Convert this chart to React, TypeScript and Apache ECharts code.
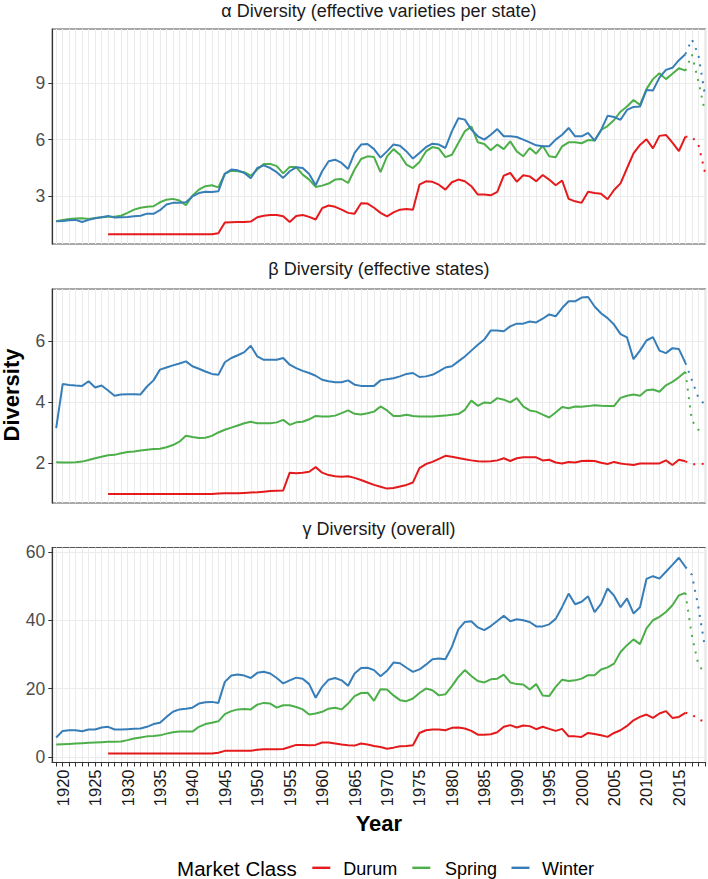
import React, { useEffect, useRef } from 'react';
import * as echarts from 'echarts';

const FONT = '"Liberation Sans", Arial, Helvetica, sans-serif';

// ---- axes ----
const START_YEAR = 1919;
const X_MIN = 1918.4;
const X_MAX = 2019.1;
const X_TICK_YEARS: number[] = [];
for (let y = 1919; y <= 2019; y++) X_TICK_YEARS.push(y);
const X_LABEL_YEARS = [1920, 1925, 1930, 1935, 1940, 1945, 1950, 1955, 1960, 1965, 1970, 1975, 1980, 1985, 1990, 1995, 2000, 2005, 2010, 2015];
const DOTTED_YEARS = [2016, 2017, 2018, 2019];

const ALPHA_TICKS = [3, 6, 9];
const BETA_TICKS = [2, 4, 6];
const GAMMA_TICKS = [0, 20, 40, 60];

const CLASSES = ['Durum', 'Spring', 'Winter'];
const COLORS = ['#E41A1C', '#4DAF4A', '#377EB8'];

const N = null;
const DURUM_PRE = [N, N, N, N, N, N, N, N]; // 1919-1926
const ONES_1927_1943 = [1, 1, 1, 1, 1, 1, 1, 1, 1, 1, 1, 1, 1, 1, 1, 1, 1];

// ---- α diversity (1919-2016) ----
const ALPHA_WINTER = [
  1.69, 1.70, 1.74, 1.76, 1.65, 1.76, 1.85, 1.90, 1.97, 1.88,
  1.90, 1.91, 1.95, 1.98, 2.09, 2.08, 2.27, 2.57, 2.66, 2.67,
  2.69, 3.00, 3.18, 3.25, 3.24, 3.27, 4.20, 4.42, 4.38, 4.24,
  3.96, 4.50, 4.64, 4.50, 4.28, 3.98, 4.33, 4.54, 4.50, 4.19,
  3.59, 4.33, 4.86, 4.94, 4.77, 4.45, 5.30, 5.74, 5.77, 5.50,
  5.05, 5.38, 5.75, 5.68, 5.38, 5.00, 5.30, 5.60, 5.79, 5.74,
  5.56, 6.44, 7.13, 7.06, 6.53, 6.18, 6.00, 6.26, 6.56, 6.18,
  6.18, 6.14, 6.00, 5.86, 5.70, 5.65, 5.65, 6.00, 6.26, 6.62,
  6.18, 6.18, 6.36, 5.95, 6.50, 7.26, 7.20, 7.05, 7.57, 7.73,
  7.75, 8.63, 8.60, 9.28, 9.69, 9.80, 10.20, 10.52,
];
const ALPHA_SPRING = [
  1.69, 1.76, 1.81, 1.83, 1.85, 1.81, 1.86, 1.90, 1.92, 1.92,
  1.98, 2.13, 2.30, 2.40, 2.45, 2.48, 2.69, 2.83, 2.87, 2.78,
  2.53, 3.04, 3.36, 3.54, 3.59, 3.48, 4.20, 4.36, 4.33, 4.28,
  4.10, 4.42, 4.72, 4.72, 4.60, 4.22, 4.56, 4.55, 4.15, 3.89,
  3.50, 3.57, 3.68, 3.89, 3.92, 3.71, 4.42, 4.98, 5.12, 5.08,
  4.28, 5.12, 5.50, 5.20, 4.68, 4.50, 4.82, 5.38, 5.61, 5.53,
  5.08, 5.20, 5.82, 6.44, 6.70, 5.86, 5.77, 5.44, 5.74, 5.50,
  5.91, 5.38, 5.12, 5.56, 5.26, 5.68, 5.12, 5.07, 5.65, 5.86,
  5.86, 5.81, 5.98, 5.95, 6.51, 6.72, 7.04, 7.48, 7.75, 8.10,
  7.84, 8.67, 9.20, 9.51, 9.20, 9.48, 9.78, 9.65,
];
const ALPHA_DURUM = [
  ...DURUM_PRE, ...ONES_1927_1943,
  1.05, 1.62, 1.64, 1.65, 1.65, 1.67, 1.90, 1.98, 2.02, 2.02,
  1.95, 1.65, 1.97, 2.02, 1.92, 1.78, 2.38, 2.52, 2.45, 2.30,
  2.13, 2.09, 2.64, 2.62, 2.40, 2.13, 1.95, 2.16, 2.30, 2.34,
  2.30, 3.62, 3.80, 3.77, 3.62, 3.36, 3.75, 3.89, 3.80, 3.54,
  3.10, 3.10, 3.06, 3.24, 4.10, 4.24, 3.78, 4.12, 4.06, 3.80,
  4.13, 3.89, 3.59, 3.84, 2.87, 2.74, 2.66, 3.25, 3.18, 3.14,
  2.85, 3.34, 3.69, 4.49, 5.28, 5.72, 6.02, 5.54, 6.20, 6.25,
  5.84, 5.40, 6.16,
];
// dotted tail 2016-2019
const ALPHA_WINTER_TAIL = [10.52, 11.3, 10.5, 8.4];
const ALPHA_SPRING_TAIL = [9.65, 10.5, 9.1, 7.5];
const ALPHA_DURUM_TAIL = [6.16, 6.15, 5.75, 4.3];

// ---- β diversity (1919-2016) ----
const BETA_WINTER = [
  3.15, 4.59, 4.56, 4.54, 4.53, 4.68, 4.48, 4.54, 4.38, 4.21,
  4.25, 4.26, 4.26, 4.25, 4.51, 4.71, 5.06, 5.13, 5.20, 5.26,
  5.33, 5.17, 5.09, 5.00, 4.92, 4.89, 5.30, 5.44, 5.53, 5.63,
  5.84, 5.49, 5.38, 5.38, 5.38, 5.44, 5.22, 5.11, 5.02, 4.95,
  4.86, 4.73, 4.68, 4.65, 4.65, 4.71, 4.57, 4.53, 4.53, 4.53,
  4.71, 4.75, 4.78, 4.84, 4.92, 4.95, 4.82, 4.84, 4.89, 5.00,
  5.13, 5.17, 5.33, 5.49, 5.68, 5.87, 6.04, 6.34, 6.34, 6.31,
  6.47, 6.56, 6.56, 6.63, 6.60, 6.72, 6.86, 6.80, 7.07, 7.29,
  7.29, 7.41, 7.43, 7.12, 6.90, 6.74, 6.53, 6.22, 6.11, 5.40,
  5.68, 6.01, 6.12, 5.68, 5.60, 5.76, 5.73, 5.28,
];
const BETA_SPRING = [
  2.04, 2.03, 2.03, 2.04, 2.06, 2.11, 2.17, 2.22, 2.27, 2.28,
  2.33, 2.37, 2.39, 2.42, 2.45, 2.47, 2.48, 2.53, 2.60, 2.71,
  2.90, 2.86, 2.83, 2.84, 2.90, 3.01, 3.10, 3.17, 3.24, 3.31,
  3.36, 3.31, 3.31, 3.31, 3.34, 3.42, 3.26, 3.34, 3.36, 3.44,
  3.55, 3.53, 3.53, 3.56, 3.64, 3.73, 3.62, 3.60, 3.64, 3.69,
  3.86, 3.73, 3.55, 3.55, 3.59, 3.55, 3.53, 3.53, 3.53, 3.55,
  3.56, 3.59, 3.61, 3.75, 4.05, 3.88, 3.99, 3.97, 4.13, 4.08,
  3.99, 4.13, 3.86, 3.73, 3.69, 3.59, 3.50, 3.66, 3.84, 3.80,
  3.86, 3.85, 3.87, 3.90, 3.88, 3.87, 3.87, 4.14, 4.21, 4.25,
  4.21, 4.39, 4.41, 4.34, 4.55, 4.66, 4.81, 4.99,
];
const BETA_DURUM = [
  ...DURUM_PRE, ...ONES_1927_1943,
  1.02, 1.03, 1.03, 1.03, 1.04, 1.05, 1.06, 1.08, 1.10, 1.11,
  1.12, 1.70, 1.68, 1.70, 1.73, 1.88, 1.70, 1.62, 1.58, 1.57,
  1.58, 1.53, 1.46, 1.38, 1.30, 1.24, 1.18, 1.20, 1.25, 1.30,
  1.38, 1.85, 1.98, 2.05, 2.15, 2.25, 2.22, 2.18, 2.14, 2.10,
  2.07, 2.06, 2.07, 2.10, 2.17, 2.08, 2.17, 2.20, 2.20, 2.20,
  2.10, 2.12, 2.03, 2.00, 2.05, 2.03, 2.08, 2.09, 2.08, 2.02,
  1.98, 2.05, 2.00, 1.97, 1.95, 2.00, 2.00, 2.00, 2.00, 2.10,
  1.95, 2.12, 2.07,
];
const BETA_WINTER_TAIL = [5.28, 4.72, 4.15, 3.92];
const BETA_SPRING_TAIL = [4.99, 3.4, 3.1, 3.0];
const BETA_DURUM_TAIL = [2.07, 1.97, 1.98, 1.99];

// ---- γ diversity (1919-2016) ----
const GAMMA_WINTER = [
  5.66, 7.60, 7.80, 7.80, 7.50, 8.00, 8.00, 8.60, 8.80, 8.00,
  8.00, 8.10, 8.20, 8.30, 8.80, 9.60, 10.00, 11.70, 13.20, 13.90,
  14.10, 14.40, 15.60, 16.00, 16.10, 15.80, 21.95, 23.80, 24.10, 23.80,
  23.10, 24.60, 24.90, 24.40, 23.10, 21.50, 22.40, 23.20, 22.90, 21.30,
  17.30, 20.50, 22.60, 23.10, 22.40, 20.80, 24.40, 26.00, 26.10, 25.40,
  23.60, 25.20, 27.60, 27.40, 26.10, 24.90, 25.60, 27.00, 28.60, 28.80,
  28.60, 32.20, 37.30, 39.50, 39.70, 37.90, 37.10, 38.30, 39.80, 41.30,
  39.70, 40.30, 40.00, 39.50, 38.20, 38.20, 38.80, 40.40, 43.90, 47.80,
  44.70, 45.40, 47.00, 42.40, 44.80, 49.30, 47.20, 43.80, 46.40, 42.00,
  43.80, 52.10, 52.90, 52.20, 54.20, 56.20, 58.30, 55.60,
];
const GAMMA_SPRING = [
  3.60, 3.70, 3.80, 3.90, 4.00, 4.10, 4.20, 4.30, 4.40, 4.40,
  4.50, 4.90, 5.40, 5.70, 6.00, 6.10, 6.30, 6.80, 7.20, 7.40,
  7.40, 7.40, 8.80, 9.60, 10.00, 10.40, 12.50, 13.40, 13.90, 14.00,
  13.90, 15.30, 15.80, 15.60, 14.40, 15.10, 15.10, 14.60, 13.90, 12.40,
  12.70, 13.20, 14.10, 14.40, 13.90, 15.60, 17.80, 18.70, 18.80, 16.40,
  19.80, 19.70, 18.00, 16.60, 16.30, 17.10, 18.70, 20.00, 19.50, 18.00,
  18.30, 20.70, 23.40, 25.40, 23.70, 22.20, 21.80, 22.70, 22.90, 24.10,
  21.80, 21.30, 21.20, 19.70, 21.30, 18.00, 17.80, 20.50, 22.60, 22.20,
  22.40, 22.90, 23.90, 23.90, 25.60, 26.20, 27.30, 30.70, 32.70, 34.40,
  33.00, 37.60, 40.00, 41.00, 42.40, 44.40, 47.30, 48.00,
];
const GAMMA_DURUM = [
  ...DURUM_PRE, ...ONES_1927_1943,
  1.20, 1.76, 1.76, 1.76, 1.76, 1.80, 2.05, 2.20, 2.20, 2.20,
  2.30, 2.90, 3.50, 3.50, 3.40, 3.50, 4.20, 4.20, 3.90, 3.60,
  3.40, 3.30, 3.90, 3.60, 3.20, 2.90, 2.40, 2.70, 3.10, 3.20,
  3.40, 7.00, 7.80, 8.00, 8.00, 7.80, 8.50, 8.60, 8.30, 7.60,
  6.50, 6.50, 6.60, 7.20, 8.80, 9.30, 8.60, 9.20, 9.00, 8.10,
  8.80, 8.20, 7.60, 8.20, 6.00, 6.00, 5.85, 7.00, 6.70, 6.35,
  5.85, 7.00, 7.80, 9.05, 10.70, 11.70, 12.40, 11.40, 12.70, 13.40,
  11.40, 11.70, 12.90,
];
const GAMMA_WINTER_TAIL = [55.6, 53.3, 43.9, 32.2];
const GAMMA_SPRING_TAIL = [48.0, 35.5, 27.0, 24.5];
const GAMMA_DURUM_TAIL = [12.9, 12.4, 11.0, 10.3];

const PANEL_TITLES = [
  'α Diversity (effective varieties per state)',
  'β Diversity (effective states)',
  'γ Diversity (overall)',
];

// layout
const GRID_LEFT = 52.3;
const GRID_RIGHT = 2.5;
const PANELS = [
  { top: 29, height: 215, min: 0.485, max: 11.85, step: 3, ticks: ALPHA_TICKS, titleY: 11,
    solid: [ALPHA_DURUM, ALPHA_SPRING, ALPHA_WINTER], tail: [ALPHA_DURUM_TAIL, ALPHA_SPRING_TAIL, ALPHA_WINTER_TAIL] },
  { top: 289, height: 214, min: 0.71, max: 7.69, step: 2, ticks: BETA_TICKS, titleY: 269,
    solid: [BETA_DURUM, BETA_SPRING, BETA_WINTER], tail: [BETA_DURUM_TAIL, BETA_SPRING_TAIL, BETA_WINTER_TAIL] },
  { top: 547.5, height: 215, min: -1.65, max: 61.3, step: 20, ticks: GAMMA_TICKS, titleY: 528.5,
    solid: [GAMMA_DURUM, GAMMA_SPRING, GAMMA_WINTER], tail: [GAMMA_DURUM_TAIL, GAMMA_SPRING_TAIL, GAMMA_WINTER_TAIL] },
];

const toPairs = (arr: (number | null)[], start: number) =>
  arr.map((v, i) => [start + i, v]).filter((p) => p[1] != null);

function buildOption() {
  const grid = PANELS.map((p) => ({
    left: GRID_LEFT, right: GRID_RIGHT, top: p.top, height: p.height,
    show: true, borderColor: '#555', borderWidth: 1.2, backgroundColor: '#fff',
  }));

  const xAxis = PANELS.map((p, i) => ({
    type: 'value', gridIndex: i, min: X_MIN, max: X_MAX,
    minInterval: 1, maxInterval: 1, splitNumber: 100,
    axisLine: { show: i === 2, onZero: false, lineStyle: { color: '#333', width: 1.2 } },
    axisTick: { show: i === 2, customValues: X_TICK_YEARS, length: 4, lineStyle: { color: '#333', width: 1 } },
    axisLabel: {
      show: i === 2, customValues: X_LABEL_YEARS, rotate: 90, margin: 7,
      fontSize: 16.5, color: '#1a1a1a', fontFamily: FONT,
      formatter: (v: number) => (X_LABEL_YEARS.includes(v) ? String(v) : ''),
    },
    splitLine: { show: true, lineStyle: { color: '#EBEBEB', width: 1 } },
  }));

  const yAxis = PANELS.map((p, i) => ({
    type: 'value', gridIndex: i, min: p.min, max: p.max,
    minInterval: p.step, maxInterval: p.step,
    axisLine: { show: true, onZero: false, lineStyle: { color: '#333', width: 1.2 } },
    axisTick: { show: true, customValues: p.ticks, length: 4, lineStyle: { color: '#333', width: 1 } },
    axisLabel: {
      customValues: p.ticks, margin: 7, fontSize: 17.5, color: '#4D4D4D', fontFamily: FONT,
      formatter: (v: number) => (p.ticks.includes(v) ? String(v) : ''),
    },
    splitLine: { show: true, lineStyle: { color: '#EBEBEB', width: 1 } },
  }));

  const series: any[] = [];
  PANELS.forEach((p, i) => {
    CLASSES.forEach((name, k) => {
      series.push({
        type: 'line', name, xAxisIndex: i, yAxisIndex: i,
        data: toPairs(p.solid[k], START_YEAR),
        showSymbol: false, symbol: 'none', clip: true,
        lineStyle: { color: COLORS[k], width: 2 }, itemStyle: { color: COLORS[k] },
        z: 3 + k,
      });
      series.push({
        type: 'line', name, xAxisIndex: i, yAxisIndex: i,
        data: toPairs(p.tail[k], DOTTED_YEARS[0]),
        showSymbol: false, symbol: 'none', clip: true,
        lineStyle: { color: COLORS[k], width: 2, type: [2, 6.5] }, itemStyle: { color: COLORS[k] },
        z: 3 + k,
      });
    });
  });

  const centerX = GRID_LEFT + (708 - GRID_RIGHT - GRID_LEFT) / 2;
  const graphic: any[] = PANELS.map((p, i) => ({
    type: 'text', x: centerX, y: p.titleY,
    style: { text: PANEL_TITLES[i], align: 'center', verticalAlign: 'middle', fontSize: 18, fontFamily: FONT, fill: '#1A1A1A' },
  }));
  graphic.push({
    type: 'text', x: 11, y: 395, rotation: Math.PI / 2,
    style: { text: 'Diversity', align: 'center', verticalAlign: 'middle', fontSize: 22, fontWeight: 'bold', fontFamily: FONT, fill: '#000' },
  });
  graphic.push({
    type: 'text', x: centerX, y: 823,
    style: { text: 'Year', align: 'center', verticalAlign: 'middle', fontSize: 22, fontWeight: 'bold', fontFamily: FONT, fill: '#000' },
  });
  // legend
  graphic.push({
    type: 'text', x: 296.7, y: 868.3,
    style: { text: 'Market Class', align: 'right', verticalAlign: 'middle', fontSize: 20.5, fontFamily: FONT, fill: '#000' },
  });
  const keyX = [312.3, 412.3, 511.5];
  const textX = [343.3, 445, 542];
  CLASSES.forEach((name, k) => {
    graphic.push({
      type: 'rect', shape: { x: keyX[k], y: 866.6, width: 18, height: 2.4 },
      style: { fill: COLORS[k] },
    });
    graphic.push({
      type: 'text', x: textX[k], y: 869,
      style: { text: name, align: 'left', verticalAlign: 'middle', fontSize: 18, fontFamily: FONT, fill: '#000' },
    });
  });

  return {
    animation: false,
    backgroundColor: '#fff',
    grid, xAxis, yAxis, series, graphic,
  };
}

export default function App() {
  const ref = useRef<HTMLDivElement>(null);
  useEffect(() => {
    if (!ref.current) return;
    const chart = echarts.init(ref.current, null, { renderer: 'svg' });
    chart.setOption(buildOption() as any);
    return () => chart.dispose();
  }, []);
  return (
    <div
      ref={ref}
      style={{ position: 'fixed', left: 0, top: 0, width: 708, height: 879, background: '#fff' }}
    />
  );
}
